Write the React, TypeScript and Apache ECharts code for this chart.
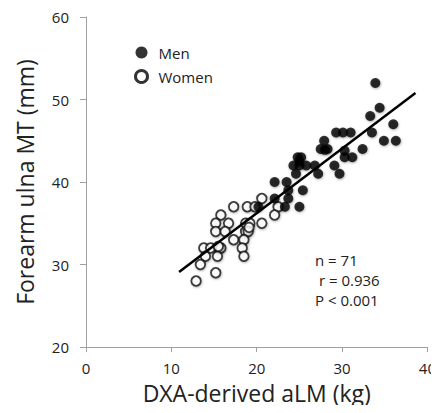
import React, { useEffect, useRef } from "react";
import * as echarts from "echarts";

const menData: number[][] = [
  [33.9, 52], [34.4, 49], [33.3, 48], [36.0, 47], [33.5, 46],
  [29.3, 46], [30.1, 46], [31.0, 46], [34.9, 45], [36.3, 45],
  [27.9, 45], [27.5, 44], [28.3, 44], [32.4, 44], [30.3, 43.8],
  [30.3, 43], [31.2, 43], [24.8, 43], [25.2, 43], [24.3, 42],
  [25.0, 42], [25.8, 42], [26.8, 42], [29.1, 42], [24.6, 41],
  [27.2, 41], [29.7, 41], [22.1, 40], [23.5, 40], [23.7, 39],
  [25.4, 39], [22.1, 38], [23.7, 38], [20.2, 37], [23.3, 37],
  [25.0, 37], [25.0, 42.5], [28.0, 43.9],
];

const womenData: number[][] = [
  [20.6, 38], [17.3, 37], [18.9, 37], [19.8, 37], [22.5, 37],
  [22.1, 36], [15.8, 36], [15.2, 35], [16.7, 35], [18.7, 35],
  [19.2, 35], [20.6, 35], [15.2, 34], [16.3, 34], [18.7, 34],
  [19.0, 34], [17.3, 33], [18.5, 33], [13.8, 32], [14.6, 32],
  [15.6, 32], [15.8, 32], [18.3, 32], [14.0, 31], [15.4, 31],
  [18.5, 31], [13.4, 30], [15.2, 29], [12.9, 28], [19.1, 34.5],
  [15.5, 32.2],
];

const fitLine: number[][] = [
  [10.9, 29.1],
  [38.6, 50.8],
];

const xTicks = [0, 10, 20, 30, 40];
const yTicks = [20, 30, 40, 50, 60];
const statsLines = ["n = 71", " r = 0.936", "P < 0.001"];

const FONT = "'Open Sans', 'Noto Sans', sans-serif";

export default function App() {
  const ref = useRef<HTMLDivElement>(null);
  useEffect(() => {
    if (!ref.current) return;
    const chart = echarts.init(ref.current, undefined, { renderer: "svg" });
    chart.setOption({
      animation: false,
      backgroundColor: "#ffffff",
      textStyle: { fontFamily: FONT },
      grid: { left: 86, right: 8, top: 17, bottom: 66 },
      legend: {
        orient: "vertical",
        left: 129,
        top: 40,
        itemWidth: 12,
        itemHeight: 12,
        itemGap: 9,
        data: [
          { name: "Men", icon: "circle" },
          {
            name: "Women",
            icon: "circle",
            itemStyle: { color: "#fff", borderColor: "#000", borderWidth: 3 },
          },
        ],
        textStyle: {
          fontSize: 15,
          color: "#222",
          fontFamily: FONT,
          padding: [0, 0, 0, 6],
        },
      },
      xAxis: {
        type: "value",
        min: xTicks[0],
        max: xTicks[xTicks.length - 1],
        interval: 10,
        name: "DXA-derived aLM (kg)",
        nameLocation: "middle",
        nameGap: 32,
        nameTextStyle: { fontSize: 23, color: "#222", fontFamily: FONT, lineHeight: 25 },
        axisLine: { lineStyle: { color: "#a0a0a0", width: 1 } },
        axisTick: { show: true, length: 5, lineStyle: { color: "#a0a0a0" } },
        axisLabel: { fontSize: 15, color: "#222", margin: 12, fontFamily: FONT, lineHeight: 17 },
        splitLine: { show: false },
      },
      yAxis: {
        type: "value",
        min: yTicks[0],
        max: yTicks[yTicks.length - 1],
        interval: 10,
        name: "Forearm ulna MT (mm)",
        nameLocation: "middle",
        nameGap: 50,
        nameRotate: 90,
        nameTextStyle: { fontSize: 23, color: "#222", fontFamily: FONT },
        axisLine: { show: true, lineStyle: { color: "#a0a0a0", width: 1 } },
        axisTick: { show: true, length: 6, lineStyle: { color: "#a0a0a0" } },
        axisLabel: { fontSize: 15, color: "#222", margin: 17, fontFamily: FONT },
        splitLine: { show: false },
      },
      series: [
        {
          name: "Women",
          type: "scatter",
          data: womenData,
          symbol: "circle",
          symbolSize: 9.5,
          itemStyle: {
            color: "#ffffff",
            borderColor: "#111",
            borderWidth: 1.8,
            shadowBlur: 2,
            shadowColor: "rgba(0,0,0,0.35)",
            shadowOffsetX: 0.5,
            shadowOffsetY: 1,
          },
          z: 2,
        },
        {
          name: "Men",
          type: "scatter",
          data: menData,
          symbol: "circle",
          symbolSize: 10,
          itemStyle: {
            color: "#000",
            shadowBlur: 2,
            shadowColor: "rgba(0,0,0,0.4)",
            shadowOffsetX: 0.5,
            shadowOffsetY: 1,
          },
          z: 3,
        },
        {
          name: "fit",
          type: "line",
          data: fitLine,
          symbol: "none",
          lineStyle: { color: "#000", width: 2.5 },
          z: 4,
        },
      ],
      graphic: statsLines.map((t, i) => ({
        type: "text",
        left: 315,
        top: 252 + i * 20,
        style: { text: t, fontSize: 15, fill: "#222", fontFamily: FONT },
      })),
    });
    return () => chart.dispose();
  }, []);
  return <div ref={ref} style={{ width: 439, height: 413, margin: -8 }} />;
}
